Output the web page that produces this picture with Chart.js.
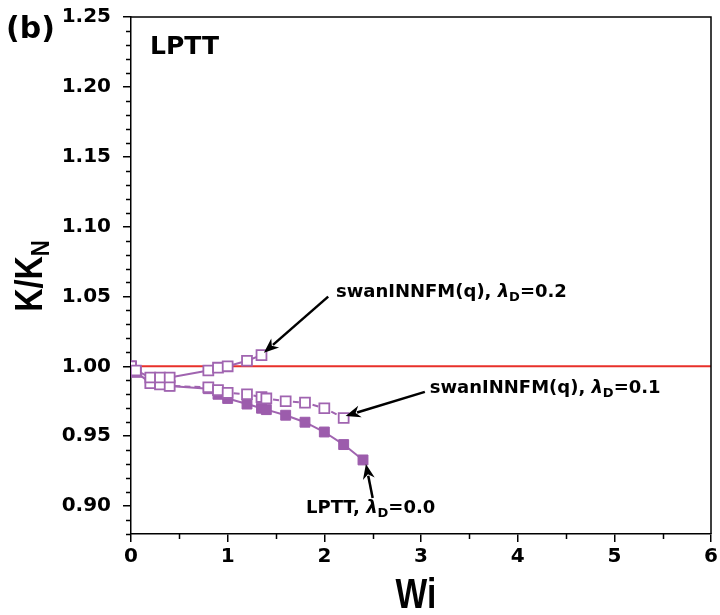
<!DOCTYPE html>
<html>
<head>
<meta charset="utf-8">
<script src="https://cdn.jsdelivr.net/npm/chart.js@4.4.0/dist/chart.umd.min.js"></script>
<style>
  html, body { margin: 0; padding: 0; background: #fff; }
  #wrap { width: 720px; height: 615px; }
</style>
</head>
<body>
<div id="wrap"><canvas id="kChart"></canvas></div>
<script>
// Wi values and K/K_N
const wiD02 = [0, 0.05, 0.2, 0.3, 0.4, 0.8, 0.9, 1.0, 1.2, 1.35];
const kD02 = [1.000, 0.997, 0.992, 0.992, 0.992, 0.997, 0.999, 1.000, 1.004, 1.008];

const wiD01 = [0, 0.05, 0.2, 0.3, 0.4, 0.8, 0.9, 1.0, 1.2, 1.35, 1.4, 1.6, 1.8, 2.0, 2.2];
const kD01 = [1.000, 0.996, 0.988, 0.987, 0.986, 0.985, 0.983, 0.981, 0.980, 0.978, 0.977, 0.975, 0.974, 0.970, 0.963];

const wiLPTT = [0, 0.05, 0.2, 0.3, 0.4, 0.8, 0.9, 1.0, 1.2, 1.35, 1.4, 1.6, 1.8, 2.0, 2.2, 2.4];
const kLPTT = [1.000, 0.996, 0.988, 0.987, 0.986, 0.984, 0.980, 0.977, 0.973, 0.970, 0.969, 0.965, 0.960, 0.953, 0.944, 0.933];

const refWi = [0, 6];
const refK = [1, 1];

const yTicks = [0.90, 0.95, 1.00, 1.05, 1.10, 1.15, 1.20, 1.25];
const xTicks = [0, 1, 2, 3, 4, 5, 6];

const PURPLE = '#a064b0';
const RED = '#e8302a';
const TICK_FONT = 'DejaVu Sans';

function pts(xs, ys) {
  return xs.map((x, i) => ({ x: x, y: ys[i] }));
}

// arrows + labels placed in data units
const notes = [
  { text: 'swanINNFM(q), ', sub: '0.2', tx: 2.12, ty: 1.0527, from: [2.04, 1.0499], to: [1.375, 1.0097] },
  { text: 'swanINNFM(q), ', sub: '0.1', tx: 3.09, ty: 0.9839, from: [3.04, 0.9817], to: [2.22, 0.9645] },
  { text: 'LPTT, ', sub: '0.0', tx: 1.81, ty: 0.8985, from: [2.50, 0.9057], to: [2.43, 0.9301] }
];

function drawArrow(ctx, x1, y1, x2, y2) {
  const ang = Math.atan2(y2 - y1, x2 - x1);
  const head = 15, half = 6;
  ctx.strokeStyle = '#000';
  ctx.fillStyle = '#000';
  ctx.lineWidth = 2.5;
  ctx.beginPath();
  ctx.moveTo(x1, y1);
  ctx.lineTo(x2 - Math.cos(ang) * head * 0.8, y2 - Math.sin(ang) * head * 0.8);
  ctx.stroke();
  ctx.beginPath();
  ctx.moveTo(x2, y2);
  ctx.lineTo(x2 - Math.cos(ang) * head + Math.sin(ang) * half, y2 - Math.sin(ang) * head - Math.cos(ang) * half);
  ctx.lineTo(x2 - Math.cos(ang) * head * 0.7, y2 - Math.sin(ang) * head * 0.7);
  ctx.lineTo(x2 - Math.cos(ang) * head - Math.sin(ang) * half, y2 - Math.sin(ang) * head + Math.cos(ang) * half);
  ctx.closePath();
  ctx.fill();
}

function drawLabel(ctx, text, val, x, y) {
  ctx.fillStyle = '#000';
  ctx.textBaseline = 'middle';
  ctx.textAlign = 'left';
  ctx.font = 'bold 18px ' + TICK_FONT;
  ctx.fillText(text, x, y);
  x += ctx.measureText(text).width;
  ctx.font = 'italic bold 18px ' + TICK_FONT;
  ctx.fillText('\u03bb', x, y);
  x += ctx.measureText('\u03bb').width;
  ctx.font = 'bold 13px ' + TICK_FONT;
  ctx.fillText('D', x, y + 5);
  x += ctx.measureText('D').width;
  ctx.font = 'bold 18px ' + TICK_FONT;
  ctx.fillText('=' + val, x, y);
}

const decorations = {
  id: 'decorations',
  afterDraw(chart) {
    const ctx = chart.ctx;
    const xs = chart.scales.x, ys = chart.scales.y;
    const a = chart.chartArea;
    ctx.save();

    // frame top/right
    ctx.strokeStyle = '#000';
    ctx.lineWidth = 1.5;
    ctx.beginPath();
    ctx.moveTo(a.left, a.top);
    ctx.lineTo(a.right, a.top);
    ctx.lineTo(a.right, a.bottom);
    ctx.stroke();

    // minor ticks
    ctx.beginPath();
    for (let i = 0; i <= 37; i++) {
      const v = 0.88 + i * 0.01;
      if (Math.round(v * 100) % 5 === 0) continue;
      const py = Math.round(ys.getPixelForValue(v)) + 0.5;
      ctx.moveTo(a.left - 5, py);
      ctx.lineTo(a.left, py);
    }
    for (let w = 0.5; w < 6; w += 1) {
      const px = Math.round(xs.getPixelForValue(w)) + 0.5;
      ctx.moveTo(px, a.bottom);
      ctx.lineTo(px, a.bottom + 5);
    }
    ctx.stroke();

    // annotations
    notes.forEach(n => {
      drawArrow(ctx, xs.getPixelForValue(n.from[0]), ys.getPixelForValue(n.from[1]),
        xs.getPixelForValue(n.to[0]), ys.getPixelForValue(n.to[1]));
      drawLabel(ctx, n.text, n.sub, xs.getPixelForValue(n.tx), ys.getPixelForValue(n.ty));
    });

    // panel texts
    ctx.fillStyle = '#000';
    ctx.textBaseline = 'middle';
    ctx.textAlign = 'left';
    ctx.font = 'bold 25px ' + TICK_FONT;
    ctx.fillText('LPTT', 150, 47);
    ctx.font = 'bold 30px ' + TICK_FONT;
    ctx.fillText('(b)', 6, 30);

    // x title
    ctx.save();
    ctx.translate(416, 596);
    ctx.scale(0.8, 1);
    ctx.textAlign = 'center';
    ctx.font = 'bold 42px "Liberation Sans"';
    ctx.fillText('Wi', 0, 0);
    ctx.restore();

    // y title K/K_N
    ctx.save();
    ctx.translate(32, 276);
    ctx.rotate(-Math.PI / 2);
    ctx.scale(0.85, 1);
    ctx.font = 'bold 38px "Liberation Sans"';
    const main = 'K/K';
    const w1 = ctx.measureText(main).width;
    ctx.font = 'bold 26px "Liberation Sans"';
    const w2 = ctx.measureText('N').width;
    const sx = -(w1 + w2) / 2;
    ctx.textAlign = 'left';
    ctx.font = 'bold 38px "Liberation Sans"';
    ctx.fillText(main, sx, 0);
    ctx.font = 'bold 26px "Liberation Sans"';
    ctx.fillText('N', sx + w1, 10);
    ctx.restore();

    ctx.restore();
  }
};

const config = {
  type: 'line',
  data: {
    datasets: [
      {
        label: 'swanINNFM(q), lambdaD=0.2',
        data: pts(wiD02, kD02),
        borderColor: PURPLE,
        borderWidth: 2,
        pointStyle: 'rect',
        pointRadius: 7,
        pointBorderWidth: 1.8,
        pointBackgroundColor: '#fff',
        pointBorderColor: PURPLE
      },
      {
        label: 'swanINNFM(q), lambdaD=0.1',
        data: pts(wiD01, kD01),
        borderColor: PURPLE,
        borderWidth: 2,
        borderDash: [6, 4],
        pointStyle: 'rect',
        pointRadius: 7,
        pointBorderWidth: 1.8,
        pointBackgroundColor: '#fff',
        pointBorderColor: PURPLE
      },
      {
        label: 'LPTT, lambdaD=0.0',
        data: pts(wiLPTT, kLPTT),
        borderColor: PURPLE,
        borderWidth: 2,
        pointStyle: 'rect',
        pointRadius: 7,
        pointBorderWidth: 1,
        pointBackgroundColor: '#9c5cac',
        pointBorderColor: '#9c5cac'
      },
      {
        label: 'Newtonian',
        data: pts(refWi, refK),
        borderColor: RED,
        borderWidth: 2,
        pointRadius: 0
      }
    ]
  },
  options: {
    responsive: true,
    maintainAspectRatio: false,
    animation: false,
    layout: { padding: { top: 17, right: 9, left: 0, bottom: 0 } },
    plugins: {
      legend: { display: false },
      tooltip: { enabled: false }
    },
    scales: {
      x: {
        type: 'linear',
        min: 0,
        max: 6,
        afterBuildTicks: s => { s.ticks = xTicks.map(v => ({ value: v })); },
        afterFit: s => { s.height = 81; s.paddingLeft = 0; s.paddingRight = 0; },
        ticks: {
          color: '#000',
          padding: 3,
          maxRotation: 0,
          font: { family: TICK_FONT, size: 20, weight: 'bold' }
        },
        grid: { drawOnChartArea: false, tickLength: 8, color: '#000', lineWidth: 1.5 },
        border: { color: '#000', width: 1.5 }
      },
      y: {
        min: 0.88,
        max: 1.25,
        afterBuildTicks: s => { s.ticks = yTicks.map(v => ({ value: v })); },
        afterFit: s => { s.width = 131; s.paddingTop = 0; s.paddingBottom = 0; },
        ticks: {
          color: '#000',
          padding: 12,
          callback: v => Number(v).toFixed(2),
          font: { family: TICK_FONT, size: 20, weight: 'bold' }
        },
        grid: { drawOnChartArea: false, tickLength: 8, color: '#000', lineWidth: 1.5 },
        border: { color: '#000', width: 1.5 }
      }
    }
  },
  plugins: [decorations]
};

const kChart = new Chart(document.getElementById('kChart'), config);
</script>
</body>
</html>
